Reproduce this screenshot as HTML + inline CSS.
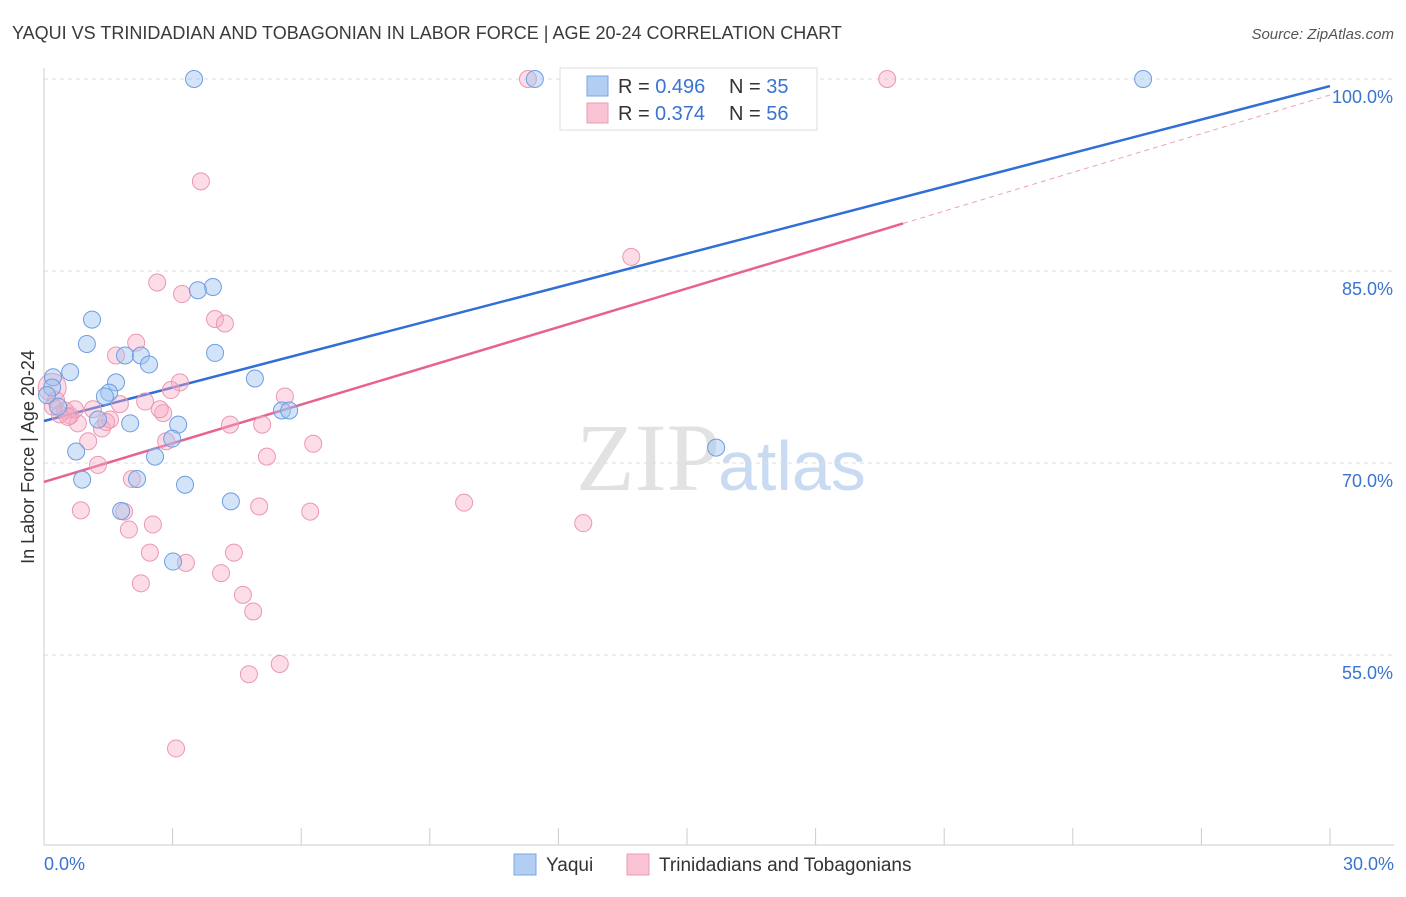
<!DOCTYPE html>
<html><head><meta charset="utf-8"><style>
body{margin:0;background:#fff;font-family:"Liberation Sans",sans-serif}
</style></head><body>
<svg id="chart" width="1406" height="892" xmlns="http://www.w3.org/2000/svg">
<text x="12" y="39" font-size="18" fill="#3a3a3a">YAQUI VS TRINIDADIAN AND TOBAGONIAN IN LABOR FORCE | AGE 20-24 CORRELATION CHART</text>
<text x="1394" y="39" font-size="15" fill="#555" font-style="italic" text-anchor="end">Source: ZipAtlas.com</text>
<text x="720" y="490" font-size="96" fill="#e2e2e2" text-anchor="end" font-family="Liberation Serif,serif">ZIP</text>
<text x="718" y="490" font-size="70" fill="#c9dbf3">atlas</text>
<g id="grid"></g><g id="axes"></g><g id="trend"></g><g id="pts"></g>
<text transform="translate(34,457) rotate(-90)" font-size="18" fill="#333" text-anchor="middle">In Labor Force | Age 20-24</text>
<g>
<rect x="560" y="68" width="257" height="62" fill="#fff" stroke="#ddd"/>
<rect x="587" y="76" width="21" height="20" fill="#b3cef3" stroke="#7aa6e6"/>
<rect x="587" y="103" width="21" height="20" fill="#f9c3d3" stroke="#eb9db6"/>
<text x="618" y="93" font-size="20" fill="#333">R = <tspan fill="#3a73d0">0.496</tspan><tspan x="729">N = </tspan><tspan fill="#3a73d0">35</tspan></text>
<text x="618" y="120" font-size="20" fill="#333">R = <tspan fill="#3a73d0" x="655">0.374</tspan><tspan x="729">N = </tspan><tspan fill="#3a73d0">56</tspan></text>
</g>
<g>
<rect x="514" y="854" width="22" height="21" fill="#b3cef3" stroke="#7aa6e6"/>
<text x="546" y="871" font-size="19" fill="#333">Yaqui</text>
<rect x="627" y="854" width="22" height="21" fill="#f9c3d3" stroke="#eb9db6"/>
<text x="659" y="871" font-size="19" fill="#333">Trinidadians and Tobagonians</text>
</g>
</svg>
<script>
const yaquiX=[3.5,11.45,25.64,3.94,3.59,1.12,1.0,3.99,1.89,2.26,2.45,0.61,0.21,4.92,1.68,1.52,1.42,0.19,0.33,5.55,5.72,1.26,2.01,3.13,2.99,0.75,2.59,15.68,0.89,2.17,3.29,4.36,1.8,3.01,0.07];
const yaquiY=[100,100,100,83.75,83.5,81.2,79.3,78.6,78.4,78.4,77.7,77.1,76.7,76.6,76.3,75.5,75.2,75.9,74.4,74.1,74.1,73.4,73.1,73.0,71.9,70.9,70.5,71.2,68.7,68.75,68.3,67.0,66.25,62.3,75.3];
const trinX=[11.29,19.67,3.66,13.7,2.64,3.22,3.99,4.22,2.15,1.68,3.17,2.96,0.19,5.62,2.36,1.77,1.14,0.49,2.78,0.61,1.54,0.79,4.34,5.09,1.35,2.85,1.03,6.28,5.2,1.26,2.05,9.8,0.86,5.02,6.21,1.87,12.58,2.54,1.98,2.47,4.43,3.31,4.13,2.26,4.64,4.88,5.5,4.78,3.08,0.28,0.37,0.72,1.45,2.7,0.21,0.56];
const trinY=[100,100,92.0,86.1,84.1,83.2,81.25,80.9,79.4,78.4,76.3,75.7,75.9,75.2,74.8,74.6,74.2,74.1,73.9,73.7,73.4,73.1,73.0,73.0,72.7,71.7,71.7,71.5,70.5,69.85,68.75,66.9,66.3,66.6,66.2,66.2,65.3,65.2,64.8,63.0,63.0,62.2,61.4,60.6,59.7,58.4,54.3,53.5,47.7,74.9,73.8,74.2,73.2,74.2,74.4,73.6];
const yTicks=[100,85,70,55];
const yTickLabels=["100.0%","85.0%","70.0%","55.0%"];
const xTickLabels=["0.0%","30.0%"];
const yaquiTrend=[73.28,99.45];
const trinTrend=[68.52,98.75];
const trinSolidEnd=20.04;
const NS="http://www.w3.org/2000/svg";
const sx=v=>44+v/30*1286;
const sy=v=>79+(100-v)*12.8;
function mk(tag,attrs,parent){const e=document.createElementNS(NS,tag);for(const k in attrs)e.setAttribute(k,attrs[k]);document.getElementById(parent).appendChild(e);return e;}
yTicks.forEach((t,i)=>{
 const l=mk('line',{x1:44,x2:1394,y1:sy(t),y2:sy(t),stroke:'#ddd','stroke-dasharray':'4,4'},'grid');
 
 
 const tx=mk('text',{x:1393,y:sy(t)+24,'font-size':18,fill:'#3a73d0','text-anchor':'end'},'grid');
 tx.textContent=yTickLabels[i];
 
 
});
const ya=mk('line',{x1:44,x2:44,y1:68,y2:845,stroke:'#ccc'},'axes');


const xa=mk('line',{x1:44,x2:1394,y1:845,y2:845,stroke:'#ccc'},'axes');


for(let i=0;i<=10;i++){const t=mk('line',{x1:sx(i*3),x2:sx(i*3),y1:828,y2:845,stroke:'#ccc'},'axes');
 
 }
[[0,xTickLabels[0],'start',44],[30,xTickLabels[1],'end',1394]].forEach(a=>{const t=mk('text',{x:a[3],y:870,'font-size':18,fill:'#3a73d0','text-anchor':a[2]},'axes');t.textContent=a[1];
 
 });
const slope=(trinTrend[1]-trinTrend[0])/30;
const bl=mk('line',{x1:sx(0),y1:sy(yaquiTrend[0]),x2:sx(30),y2:sy(yaquiTrend[1]),stroke:'#2f6fd6','stroke-width':2.5},'trend');


const pl=mk('line',{x1:sx(0),y1:sy(trinTrend[0]),x2:sx(trinSolidEnd),y2:sy(trinTrend[0]+slope*trinSolidEnd),stroke:'#e8628f','stroke-width':2.5},'trend');


const pd=mk('line',{x1:sx(trinSolidEnd),y1:sy(trinTrend[0]+slope*trinSolidEnd),x2:sx(30),y2:sy(trinTrend[1]),stroke:'#eba2b9','stroke-width':1,'stroke-dasharray':'5,4'},'trend');


trinX.forEach((x,i)=>{const c=mk('circle',{cx:sx(x),cy:sy(trinY[i]),r:i==12?14:8.5,fill:'rgba(247,170,195,0.4)',stroke:'#eb97b2','stroke-width':1},'pts');
 
 });
yaquiX.forEach((x,i)=>{const c=mk('circle',{cx:sx(x),cy:sy(yaquiY[i]),r:8.5,fill:'rgba(160,196,240,0.45)',stroke:'#6d9de3','stroke-width':1},'pts');
 
 });
</script>
</body></html>
